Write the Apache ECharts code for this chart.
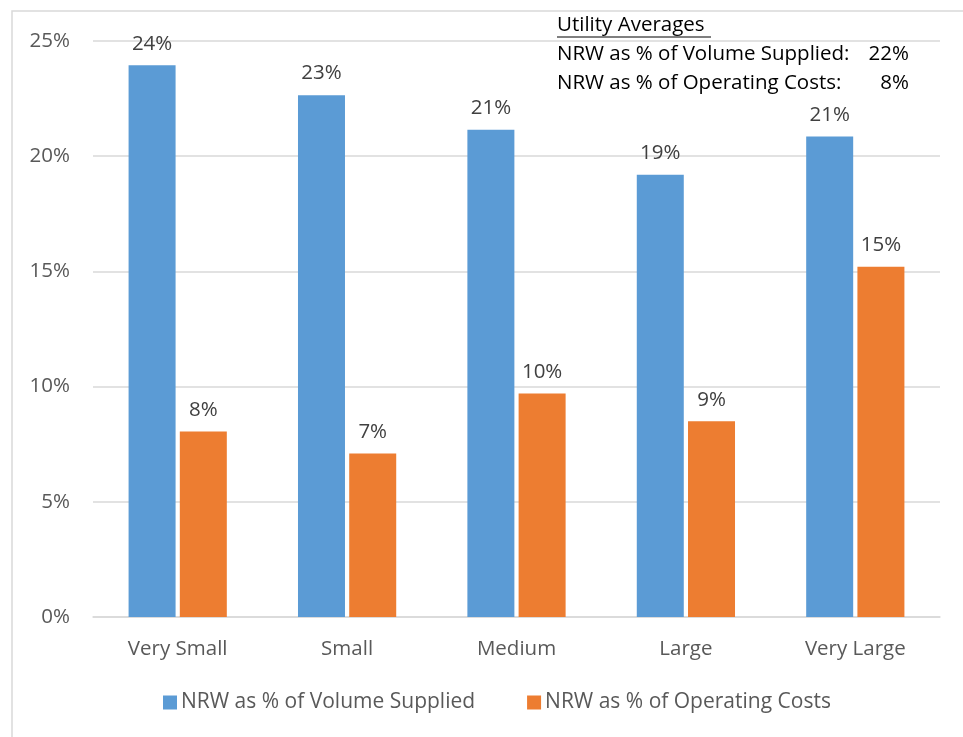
<!DOCTYPE html>
<html>
<head>
<meta charset="utf-8">
<script src="https://cdn.jsdelivr.net/npm/echarts@6/dist/echarts.min.js"></script>
<style>
  html, body { margin: 0; padding: 0; background: #ffffff; }
  #chart { width: 963px; height: 737px; }
</style>
</head>
<body>
<div id="chart"></div>
<script>
// utility size classes
const categories = ['Very Small', 'Small', 'Medium', 'Large', 'Very Large'];
// NRW shares, in percent
const volumeSupplied = [23.95, 22.65, 21.15, 19.2, 20.85];
const operatingCosts = [8.05, 7.1, 9.7, 8.5, 15.2];
const seriesNames = ['NRW as % of Volume Supplied', 'NRW as % of Operating Costs'];
const yTicks = [0, 5, 10, 15, 20, 25];
// utility averages box
const avgTitle = 'Utility Averages';
const avgLabels = ['NRW as % of Volume Supplied:', 'NRW as % of Operating Costs:'];
const avgValues = ['22%', '8%'];

const FONT = '"Open Sans", "Noto Sans", sans-serif';
const FS = 20.5;
const BLUE = '#5b9bd5';
const ORANGE = '#ed7d31';

const chart = echarts.init(document.getElementById('chart'), null, { renderer: 'canvas' });

function barSeries(name, data, color) {
    return {
        name: name,
        type: 'bar',
        data: data,
        barWidth: 47,
        barGap: '9%',
        itemStyle: { color: color },
        label: {
            show: true,
            position: 'top',
            distance: 11,
            color: '#404040',
            fontFamily: FONT,
            fontSize: FS,
            formatter: (p) => Math.round(p.value) + '%'
        }
    };
}

const graphics = [
    {
        type: 'rect',
        shape: { x: 12, y: 11, width: 960, height: 740 },
        style: { fill: 'none', stroke: '#d9d9d9', lineWidth: 1.5 },
        z: -1
    },
    {
        type: 'text',
        left: 557, top: 15,
        style: { text: avgTitle, fill: '#000', font: FS + 'px ' + FONT }
    },
    {
        type: 'line',
        shape: { x1: 557, y1: 37, x2: 711, y2: 37 },
        style: { stroke: '#000', lineWidth: 1.2 }
    }
];
avgLabels.forEach((t, i) => {
    graphics.push({
        type: 'text', left: 557, top: 44 + i * 29,
        style: { text: t, fill: '#000', font: FS + 'px ' + FONT }
    });
    graphics.push({
        type: 'text', right: 54, top: 44 + i * 29,
        style: { text: avgValues[i], fill: '#000', font: FS + 'px ' + FONT, textAlign: 'right' }
    });
});

chart.setOption({
    backgroundColor: '#ffffff',
    animation: false,
    grid: { left: 93, right: 23, top: 41, bottom: 120, containLabel: false },
    legend: {
        bottom: 19,
        left: 158,
        itemWidth: 14,
        itemHeight: 14,
        itemGap: 52,
        icon: 'rect',
        textStyle: { color: '#595959', fontFamily: FONT, fontSize: 21, padding: [0, 0, 0, -1] },
        data: seriesNames
    },
    xAxis: {
        type: 'category',
        data: categories,
        axisLine: { lineStyle: { color: '#d9d9d9', width: 1.5 } },
        axisTick: { show: false },
        axisLabel: { color: '#595959', fontFamily: FONT, fontSize: FS, margin: 22 }
    },
    yAxis: {
        type: 'value',
        min: yTicks[0],
        max: yTicks[yTicks.length - 1],
        interval: 5,
        axisLine: { show: false },
        axisTick: { show: false },
        splitLine: { lineStyle: { color: '#d9d9d9', width: 1.5 } },
        axisLabel: {
            color: '#595959', fontFamily: FONT, fontSize: FS, margin: 23,
            formatter: (v) => v + '%'
        }
    },
    series: [
        barSeries(seriesNames[0], volumeSupplied, BLUE),
        barSeries(seriesNames[1], operatingCosts, ORANGE)
    ],
    graphic: graphics
});
</script>
</body>
</html>
